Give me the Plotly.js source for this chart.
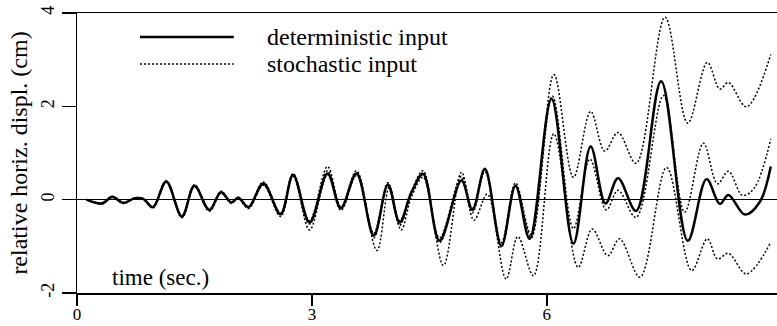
<!DOCTYPE html>
<html>
<head>
<meta charset="utf-8">
<script src="https://cdn.plot.ly/plotly-3.0.1.min.js"></script>
<style>html,body{margin:0;padding:0;background:#fff;}#chart{width:777px;height:326px;}</style>
</head>
<body>
<div id="chart"></div>
<script>
// deterministic input response (time s, displacement cm)
var detT = [0.12,0.32,0.45,0.59,0.74,0.85,0.97,1.14,1.34,1.50,1.69,1.84,1.97,2.06,2.19,2.38,2.60,2.76,2.97,3.20,3.37,3.57,3.79,3.97,4.12,4.27,4.42,4.63,4.91,5.05,5.21,5.42,5.60,5.78,6.06,6.34,6.56,6.75,6.91,7.14,7.46,7.80,8.04,8.21,8.32,8.53,8.72,8.86];
var detY = [0,-0.08,0.06,-0.07,0.03,0.01,-0.16,0.39,-0.36,0.30,-0.22,0.16,-0.06,0.04,-0.16,0.34,-0.31,0.53,-0.49,0.56,-0.18,0.56,-0.77,0.32,-0.49,0.15,0.55,-0.88,0.41,-0.22,0.66,-0.99,0.30,-0.84,2.16,-0.94,1.14,-0.08,0.46,-0.24,2.54,-0.88,0.44,-0.09,0.10,-0.32,-0.05,0.71];

// stochastic input: mean
var meanT = [0.12,0.32,0.45,0.59,0.74,0.85,0.97,1.14,1.34,1.50,1.69,1.84,1.97,2.06,2.19,2.38,2.60,2.76,2.97,3.20,3.37,3.57,3.79,3.97,4.12,4.27,4.42,4.63,4.91,5.05,5.21,5.42,5.60,5.80,6.07,6.34,6.55,6.76,6.91,7.14,7.49,7.76,8.00,8.18,8.32,8.50,8.65,8.86];
var meanY = [0,-0.08,0.06,-0.07,0.03,0.01,-0.16,0.38,-0.37,0.31,-0.23,0.17,-0.06,0.04,-0.17,0.36,-0.33,0.55,-0.52,0.62,-0.20,0.58,-0.82,0.33,-0.55,0.13,0.58,-0.92,0.45,-0.28,0.60,-1.02,0.28,-0.82,2.22,-0.62,0.87,-0.22,0.20,-0.38,2.23,-0.27,1.21,0.34,0.61,0.09,0.25,1.30];

// stochastic input: upper bound
var upT = [0.12,0.32,0.45,0.59,0.74,0.85,0.97,1.14,1.34,1.50,1.69,1.84,1.97,2.06,2.19,2.38,2.60,2.76,2.97,3.20,3.37,3.57,3.79,3.97,4.12,4.27,4.42,4.63,4.91,5.05,5.21,5.42,5.60,5.80,6.09,6.34,6.56,6.74,6.91,7.14,7.51,7.80,8.05,8.21,8.32,8.55,8.86];
var upY = [0,-0.07,0.07,-0.06,0.04,0.02,-0.15,0.41,-0.34,0.32,-0.20,0.18,-0.05,0.05,-0.15,0.38,-0.28,0.56,-0.45,0.71,-0.15,0.62,-0.72,0.36,-0.45,0.18,0.62,-0.82,0.50,-0.18,0.64,-0.92,0.36,-0.75,2.68,0.48,1.89,1.04,1.44,0.78,3.91,1.64,2.94,2.37,2.51,1.99,3.11];

// stochastic input: lower bound
var loT = [0.12,0.32,0.45,0.59,0.74,0.85,0.97,1.14,1.34,1.50,1.69,1.84,1.97,2.06,2.19,2.38,2.60,2.76,2.97,3.20,3.37,3.57,3.83,3.99,4.14,4.27,4.42,4.68,4.91,5.07,5.24,5.48,5.63,5.83,6.09,6.40,6.58,6.78,6.93,7.19,7.53,7.85,8.05,8.18,8.32,8.55,8.86];
var loY = [0,-0.09,0.05,-0.08,0.02,0,-0.18,0.37,-0.39,0.28,-0.25,0.14,-0.08,0.02,-0.19,0.31,-0.36,0.50,-0.65,0.53,-0.23,0.52,-1.09,0.28,-0.65,0.05,0.48,-1.41,0.59,-0.44,0.12,-1.70,-0.79,-1.63,1.41,-1.45,-0.63,-1.20,-0.84,-1.66,0.69,-1.52,-0.84,-1.27,-1.15,-1.59,-0.91];

var xTicks = [0, 3, 6];
var yTicks = [-2, 0, 2, 4];
var yTickText = ['-2', '0', '2', '4'];
var legendLabels = ['deterministic input', 'stochastic input'];

var serif = 'Liberation Serif, Times New Roman, serif';
var dotLine = {color: '#000', width: 1.5, dash: '2px,2px', shape: 'spline', smoothing: 1};

var traces = [
  {x: upT, y: upY, mode: 'lines', line: dotLine, hoverinfo: 'skip'},
  {x: loT, y: loY, mode: 'lines', line: dotLine, hoverinfo: 'skip'},
  {x: meanT, y: meanY, mode: 'lines', line: dotLine, hoverinfo: 'skip'},
  {x: detT, y: detY, mode: 'lines', line: {color: '#000', width: 2.5, shape: 'spline', smoothing: 1}, hoverinfo: 'skip'}
];

var layout = {
  width: 777, height: 326,
  margin: {l: 77, r: 0, t: 13, b: 33, pad: 0},
  paper_bgcolor: '#fff', plot_bgcolor: '#fff',
  showlegend: false,
  font: {family: serif, color: '#000', size: 18},
  xaxis: {
    range: [0, 8.94], tickvals: xTicks, ticktext: xTicks.map(String),
    showgrid: false, zeroline: false, showline: true, mirror: true,
    linecolor: '#000', linewidth: 1.5, ticks: 'outside', ticklen: 11, tickwidth: 1.5, tickcolor: '#000',
    tickfont: {family: serif, size: 17}, ticklabelstandoff: -6
  },
  yaxis: {
    range: [-2, 4], tickvals: yTicks, ticktext: yTickText, tickangle: -90,
    showgrid: false, zeroline: true, zerolinecolor: '#000', zerolinewidth: 1.5,
    showline: true, linecolor: '#000', linewidth: 1.5, ticks: 'outside', ticklen: 14, tickwidth: 1.5, tickcolor: '#000',
    tickfont: {family: serif, size: 18},
    title: {text: 'relative horiz. displ. (cm)', font: {family: serif, size: 24}, standoff: 4}
  },
  shapes: [
    {type: 'line', xref: 'paper', yref: 'paper', x0: 0.09, x1: 0.224, y0: 0.914, y1: 0.914, line: {color: '#000', width: 2.5}},
    {type: 'line', xref: 'paper', yref: 'paper', x0: 0.09, x1: 0.224, y0: 0.818, y1: 0.818, line: {color: '#000', width: 1.5, dash: '2px,2px'}}
  ],
  annotations: [
    {xref: 'paper', yref: 'paper', x: 0.269, y: 0.914, xanchor: 'left', yanchor: 'middle', text: legendLabels[0], showarrow: false, font: {family: serif, size: 24}},
    {xref: 'paper', yref: 'paper', x: 0.269, y: 0.818, xanchor: 'left', yanchor: 'middle', text: legendLabels[1], showarrow: false, font: {family: serif, size: 24}},
    {xref: 'paper', yref: 'paper', x: 0.047, y: 0.057, xanchor: 'left', yanchor: 'middle', text: 'time (sec.)', showarrow: false, font: {family: serif, size: 23}}
  ]
};

Plotly.newPlot('chart', traces, layout, {displayModeBar: false, staticPlot: true});
</script>
</body>
</html>
